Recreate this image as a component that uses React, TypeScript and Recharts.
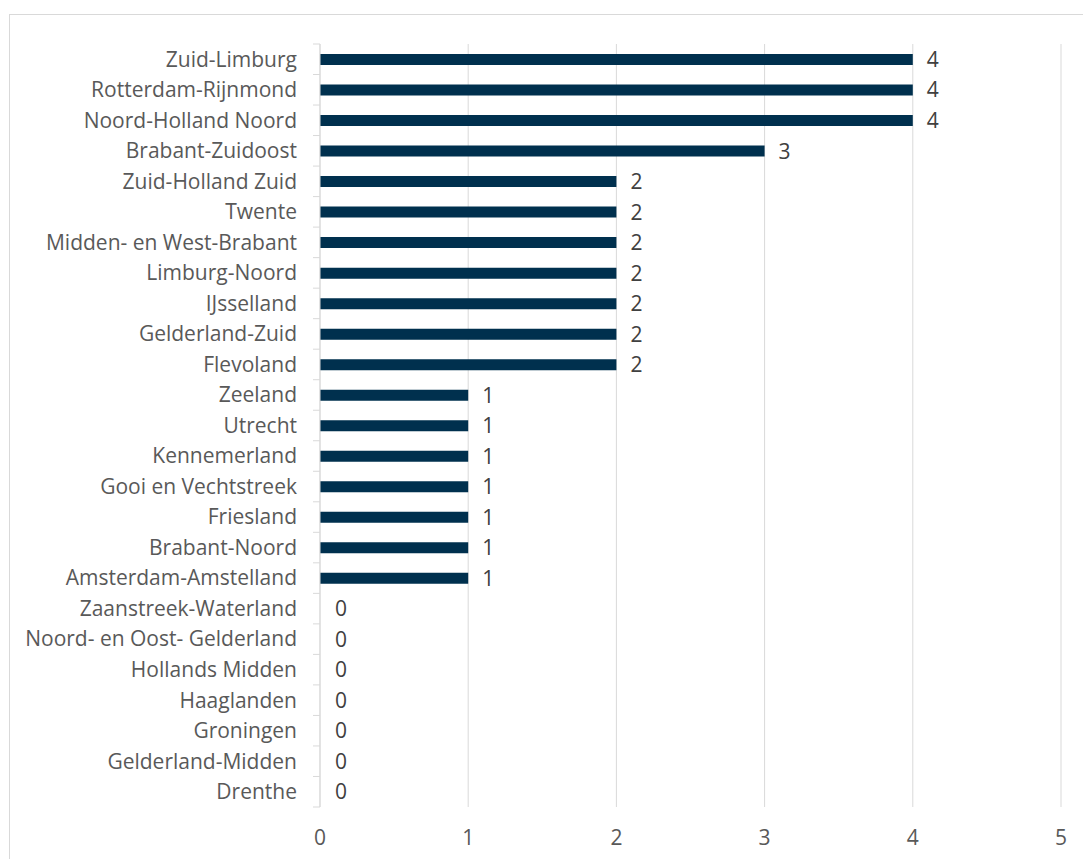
import React from "react";
import { BarChart, Bar, XAxis, YAxis, CartesianGrid, LabelList, Cell } from "recharts";

// regions, top to bottom as they appear in the chart
const regions = [
  "Zuid-Limburg",
  "Rotterdam-Rijnmond",
  "Noord-Holland Noord",
  "Brabant-Zuidoost",
  "Zuid-Holland Zuid",
  "Twente",
  "Midden- en West-Brabant",
  "Limburg-Noord",
  "IJsselland",
  "Gelderland-Zuid",
  "Flevoland",
  "Zeeland",
  "Utrecht",
  "Kennemerland",
  "Gooi en Vechtstreek",
  "Friesland",
  "Brabant-Noord",
  "Amsterdam-Amstelland",
  "Zaanstreek-Waterland",
  "Noord- en Oost- Gelderland",
  "Hollands Midden",
  "Haaglanden",
  "Groningen",
  "Gelderland-Midden",
  "Drenthe",
];

const counts = [4, 4, 4, 3, 2, 2, 2, 2, 2, 2, 2, 1, 1, 1, 1, 1, 1, 1, 0, 0, 0, 0, 0, 0, 0];

const xTicks = [0, 1, 2, 3, 4, 5];

const data = regions.map((name, i) => ({ name, value: counts[i] }));

const W = 1083;
const H = 859;
const MARGIN = { top: 44, right: 22, bottom: 22, left: 0 };
const X_AXIS_H = 30;
const Y_AXIS_W = 320;
const BAND = (H - MARGIN.top - MARGIN.bottom - X_AXIS_H) / regions.length;

const FONT = "'Open Sans', sans-serif";
const GRID = "#d9d9d9";
const BAR = "#00304E";

function CategoryTick(props: any) {
  const { x, y, payload, index } = props;
  // x is the text anchor; axis line sits 23px to the right
  const ax = x + 23;
  return (
    <g>
      <line x1={ax - 7} x2={ax} y1={y - BAND / 2} y2={y - BAND / 2} stroke={GRID} />
      {index === regions.length - 1 && (
        <line x1={ax - 7} x2={ax} y1={y + BAND / 2} y2={y + BAND / 2} stroke={GRID} />
      )}
      <text x={x} y={y} dy="0.35em" textAnchor="end" fill="#595959" fontSize={21} fontFamily={FONT}>
        {payload.value}
      </text>
    </g>
  );
}

export default function App() {
  return (
    <div
      style={{
        position: "fixed",
        left: 0,
        top: 0,
        width: W,
        height: H,
        overflow: "hidden",
        background: "#fff",
      }}
    >
      <div
        style={{
          position: "absolute",
          left: 9,
          top: 14,
          width: 1200,
          height: 1000,
          border: `1px solid ${GRID}`,
        }}
      />
      <div style={{ position: "absolute", left: 0, top: 0 }}>
        <BarChart width={W} height={H} data={data} layout="vertical" margin={MARGIN}>
          <CartesianGrid horizontal={false} stroke={GRID} strokeDasharray="" />
          <XAxis
            type="number"
            domain={[0, 5]}
            ticks={xTicks}
            height={X_AXIS_H}
            axisLine={false}
            tickLine={false}
            tickSize={8}
            tickMargin={15}
            tick={{ fill: "#595959", fontSize: 21, fontFamily: FONT }}
          />
          <YAxis
            type="category"
            dataKey="name"
            width={Y_AXIS_W}
            interval={0}
            axisLine={{ stroke: GRID }}
            tickLine={false}
            tickSize={7}
            tickMargin={16}
            tick={<CategoryTick />}
          />
          <Bar dataKey="value" fill={BAR} barSize={11} minPointSize={1} isAnimationActive={false}>
            {data.map((d, i) => (
              <Cell key={i} fill={d.value === 0 ? "transparent" : BAR} />
            ))}
            <LabelList
              dataKey="value"
              position="right"
              offset={14}
              fill="#404040"
              fontSize={21}
              fontFamily={FONT}
            />
          </Bar>
        </BarChart>
      </div>
    </div>
  );
}
